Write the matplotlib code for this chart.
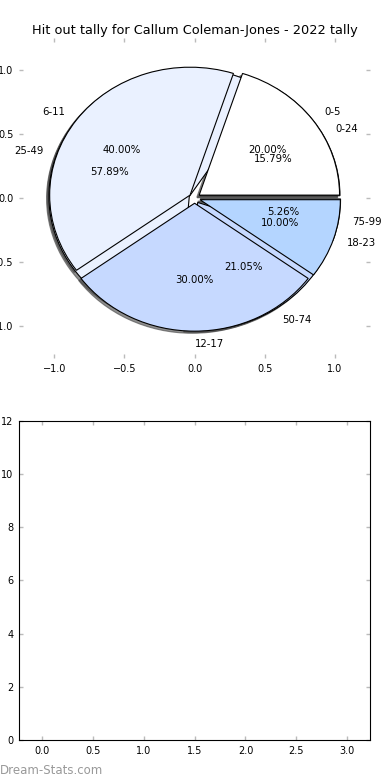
import matplotlib
matplotlib.use('Agg')
import matplotlib.pyplot as plt

# Hit out tally, two groupings of the same games
bins_small = ['0-5', '6-11', '12-17', '18-23']
counts_small = [2, 4, 3, 1]
bins_large = ['0-24', '25-49', '50-74', '75-99']
counts_large = [3, 11, 4, 1]

slice_colours = ['#ffffff', '#eaf1ff', '#c6d9ff', '#b4d5ff']
explode = [0.04, 0.04, 0.04, 0.04]

fig = plt.figure(figsize=(3.9, 7.8), dpi=100)

# Top: the two pies drawn on one axes
ax1 = fig.add_axes([0.049, 0.541, 0.9, 0.41])
wp = {'edgecolor': 'black', 'linewidth': 0.8}
tp = {'fontsize': 7.3}
sh = {'ox': -0.012, 'oy': -0.012, 'facecolor': '#444444',
      'edgecolor': '#444444', 'alpha': 0.6}
ax1.pie(counts_large, labels=bins_large, colors=slice_colours, explode=explode,
        autopct='%1.2f%%', shadow=sh, frame=True, wedgeprops=wp, textprops=tp)
ax1.pie(counts_small, labels=bins_small, colors=slice_colours, explode=explode,
        autopct='%1.2f%%', shadow=sh, frame=True, wedgeprops=wp, textprops=tp)
ax1.set_aspect('auto')
ax1.set_xlim(-1.25, 1.25)
ax1.set_ylim(-1.25, 1.25)
ax1.set_xticks([-1.0, -0.5, 0.0, 0.5, 1.0])
ax1.set_yticks([-1.0, -0.5, 0.0, 0.5, 1.0])
for s in ax1.spines.values():
    s.set_visible(False)
ax1.set_title('Hit out tally for Callum Coleman-Jones - 2022 tally', fontsize=9.3, pad=3)

# Bottom: empty axes
ax2 = fig.add_axes([0.049, 0.0513, 0.9, 0.409])
ax2.set_xlim(-0.225, 3.225)
ax2.set_ylim(0, 12)
ax2.set_xticks([0.0, 0.5, 1.0, 1.5, 2.0, 2.5, 3.0])
ax2.set_yticks([0, 2, 4, 6, 8, 10, 12])

for ax in (ax1, ax2):
    ax.tick_params(direction='in', length=3, width=1, color='#bbbbbb',
                   labelsize=7, top=True, right=True, pad=4)

fig.text(0.0, 0.008, 'Dream-Stats.com', color='#999999', fontsize=8.5)

fig.savefig('out.png', dpi=100)
